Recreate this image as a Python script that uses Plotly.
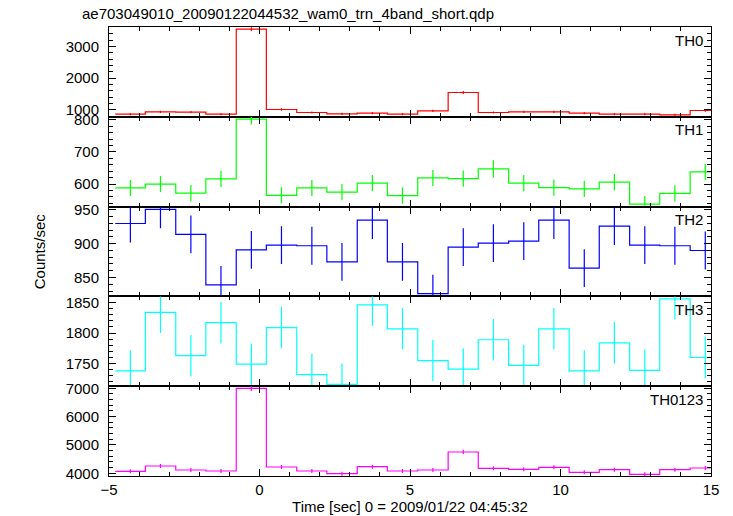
import plotly.graph_objects as go
from plotly.subplots import make_subplots

time_center = [-4.29, -3.29, -2.28, -1.28, -0.27, 0.73, 1.74, 2.74, 3.75, 4.75,
               5.76, 6.77, 7.77, 8.78, 9.78, 10.79, 11.79, 12.80, 13.80, 14.81]
bin_width = 1.005

th0 = [864, 937, 927, 864, 3546, 1010, 915, 874, 895, 864,
       968, 1546, 915, 937, 937, 895, 864, 864, 842, 978]
th0_err = [35, 35, 35, 35, 60, 37, 35, 35, 35, 35, 36, 45, 35, 35, 35, 35, 35, 35, 35, 36]

th1 = [588, 600, 572, 616, 802, 565, 588, 575, 603, 564,
       619, 617, 647, 603, 589, 585, 606, 538, 571, 638]
th1_err = [25, 25, 25, 25, 17, 25, 25, 25, 25, 25, 25, 25, 27, 25, 25, 25, 25, 25, 25, 25]

th2 = [930, 951, 914, 839, 891, 898, 897, 873, 935, 873,
       826, 895, 901, 904, 935, 864, 926, 898, 897, 890]
th2_err = [28] * 20

th3 = [1738, 1834, 1763, 1817, 1749, 1809, 1732, 1716, 1846, 1807,
       1755, 1741, 1789, 1747, 1807, 1738, 1784, 1739, 1856, 1760]
th3_err = [34] * 20

th0123 = [4070, 4258, 4116, 4081, 7000, 4222, 4081, 3986, 4233, 4081,
          4116, 4752, 4176, 4141, 4212, 4035, 4127, 3965, 4127, 4187]
th0123_err = [70, 70, 70, 70, 95, 70, 70, 70, 70, 70, 70, 75, 70, 70, 70, 70, 70, 70, 70, 70]

names = ["TH0", "TH1", "TH2", "TH3", "TH0123"]
series = [th0, th1, th2, th3, th0123]
errors = [th0_err, th1_err, th2_err, th3_err, th0123_err]
colors = ["#ff0000", "#00ff00", "#0000ff", "#00ffff", "#ff00ff"]
y_ranges = [[779, 3612], [530, 809], [822, 955], [1713, 1860], [3905, 7074]]
y_dticks = [1000, 100, 50, 50, 1000]
y_minor = [200, 20, 10, 10, 200]

FONT = "Liberation Sans, Arial, Helvetica, sans-serif"

fig = make_subplots(rows=5, cols=1, shared_xaxes=True, vertical_spacing=0)

edges = [c - bin_width / 2 for c in time_center] + [time_center[-1] + bin_width / 2]

for i, (nm, ys, er, col) in enumerate(zip(names, series, errors, colors)):
    r = i + 1
    fig.add_trace(go.Scatter(x=edges, y=ys + [ys[-1]], mode="lines", line_shape="hv",
                             line=dict(color=col, width=1.2), showlegend=False,
                             hoverinfo="skip"), row=r, col=1)
    fig.add_trace(go.Scatter(x=time_center, y=ys, mode="markers",
                             marker=dict(size=0.1, color=col),
                             error_y=dict(type="data", array=er, width=0, thickness=1.2, color=col),
                             showlegend=False, name=nm), row=r, col=1)
    fig.update_yaxes(range=y_ranges[i], dtick=y_dticks[i], tick0=0, automargin=False,
                     ticks="inside", ticklen=7, tickwidth=1, tickcolor="black",
                     ticklabelstandoff=6,
                     minor=dict(dtick=y_minor[i], ticks="inside", ticklen=4, tickcolor="black", showgrid=False),
                     showline=True, linecolor="black", linewidth=1, mirror="allticks",
                     showgrid=False, zeroline=False,
                     tickfont=dict(family=FONT, size=15, color="black"), row=r, col=1)
    fig.add_annotation(text=nm, xref=f"x{'' if r == 1 else r} domain", yref=f"y{'' if r == 1 else r} domain",
                       x=0.99, y=0.97, xanchor="right", yanchor="top", showarrow=False,
                       font=dict(family=FONT, size=15, color="black"))

fig.update_xaxes(range=[-5, 15], dtick=5, tick0=0, automargin=False,
                 ticks="inside", ticklen=7, tickwidth=1, tickcolor="black",
                 minor=dict(dtick=1, ticks="inside", ticklen=4, tickcolor="black", showgrid=False),
                 showline=True, linecolor="black", linewidth=1, mirror="allticks",
                 showgrid=False, zeroline=False,
                 tickfont=dict(family=FONT, size=15, color="black"))
fig.update_xaxes(title=dict(text="Time [sec] 0 = 2009/01/22 04:45:32",
                            font=dict(family=FONT, size=15, color="black"), standoff=2),
                 row=5, col=1)

fig.add_annotation(text="ae703049010_20090122044532_wam0_trn_4band_short.qdp",
                   xref="paper", yref="paper", x=-0.048, y=1.0, yshift=3,
                   xanchor="left", yanchor="bottom", showarrow=False,
                   font=dict(family=FONT, size=15, color="black"))
fig.add_annotation(text="Counts/sec", xref="paper", yref="paper", x=-0.115, y=0.5,
                   textangle=-90, xanchor="center", yanchor="middle", showarrow=False,
                   font=dict(family=FONT, size=15, color="black"))

fig.update_layout(width=733, height=516, margin=dict(l=109, r=22, t=27, b=40, autoexpand=False),
                  plot_bgcolor="white", paper_bgcolor="white", showlegend=False)

fig.write_html("out.html", config={"displayModeBar": False},
               post_script="document.body.style.margin='0';")
